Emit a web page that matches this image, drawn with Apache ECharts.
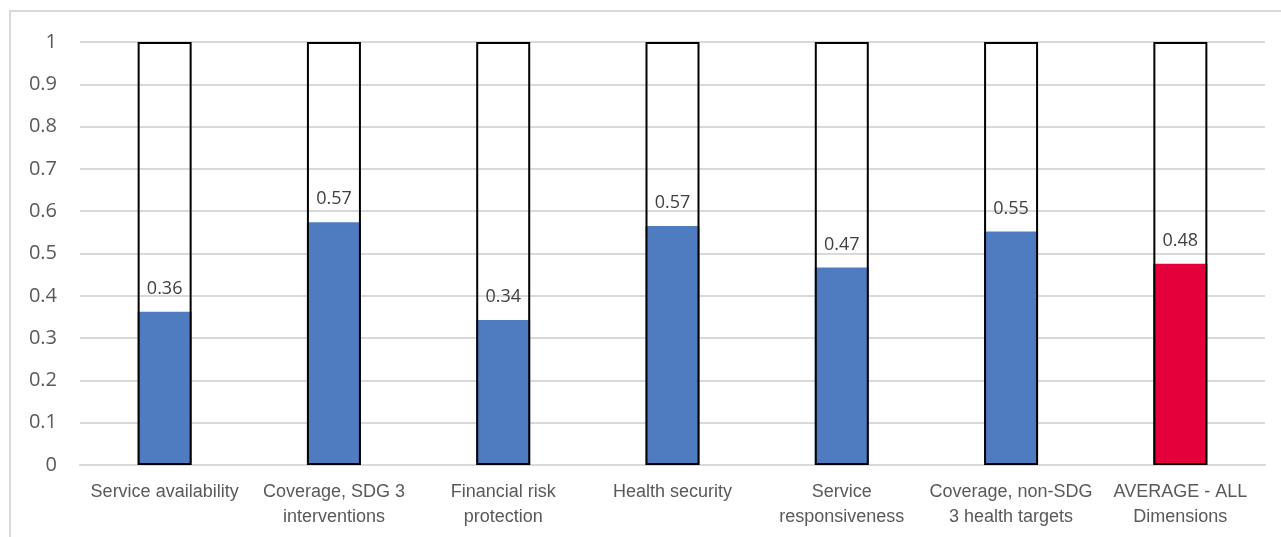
<!DOCTYPE html>
<html><head><meta charset="utf-8">
<script src="https://cdn.jsdelivr.net/npm/echarts@6/dist/echarts.min.js"></script>
<style>html,body{margin:0;padding:0;background:#fff}#c{width:1281px;height:537px}</style>
</head><body><div id="c"></div>
<script>
const categories = ['Service availability','Coverage, SDG 3\ninterventions','Financial risk\nprotection','Health security','Service\nresponsiveness','Coverage, non-SDG\n3 health targets','AVERAGE - ALL\nDimensions'];
const values = [0.362, 0.574, 0.343, 0.565, 0.467, 0.552, 0.476];
const valueLabels = ['0.36','0.57','0.34','0.57','0.47','0.55','0.48'];
const maxValues = [1,1,1,1,1,1,1];
const barColors = ['#4f7bc1','#4f7bc1','#4f7bc1','#4f7bc1','#4f7bc1','#4f7bc1','#e4003a'];

const chart = echarts.init(document.getElementById('c'), null, {renderer:'canvas'});
chart.setOption({
  animation:false,
  backgroundColor:'#fff',
  graphic:[{type:'rect',shape:{x:10,y:11,width:1300,height:600},style:{fill:'none',stroke:'#d9d9d9',lineWidth:2},z:-10,silent:true}],
  grid:{left:80,right:16,top:42,bottom:72},
  xAxis:{type:'category',data:categories,
    axisLine:{show:true,lineStyle:{color:'#d9d9d9',width:2}},
    axisTick:{show:false},
    axisLabel:{interval:0,color:'#595959',fontFamily:'"Liberation Sans", Arial, sans-serif',fontSize:18,lineHeight:25,margin:15}},
  yAxis:{type:'value',min:0,max:1,interval:0.1,
    axisLine:{show:false},axisTick:{show:false},
    splitLine:{lineStyle:{color:'#d9d9d9',width:2}},
    axisLabel:{color:'#595959',fontFamily:'Open Sans, sans-serif',fontSize:20,margin:23,
      formatter:v=>String(Math.round(v*10)/10)}},
  series:[
    {type:'bar',barWidth:54,barGap:'-100%',
     data:values.map((v,i)=>({value:v,itemStyle:{color:barColors[i]}})),
     label:{show:true,position:'top',distance:14,color:'#404040',fontFamily:'Open Sans, sans-serif',fontSize:18,
       formatter:p=>valueLabels[p.dataIndex]},z:2},
    {type:'bar',barWidth:54,barGap:'-100%',data:maxValues,
     itemStyle:{color:'rgba(0,0,0,0)',borderColor:'#000',borderWidth:2},z:3,silent:true}
  ]
});
</script></body></html>
